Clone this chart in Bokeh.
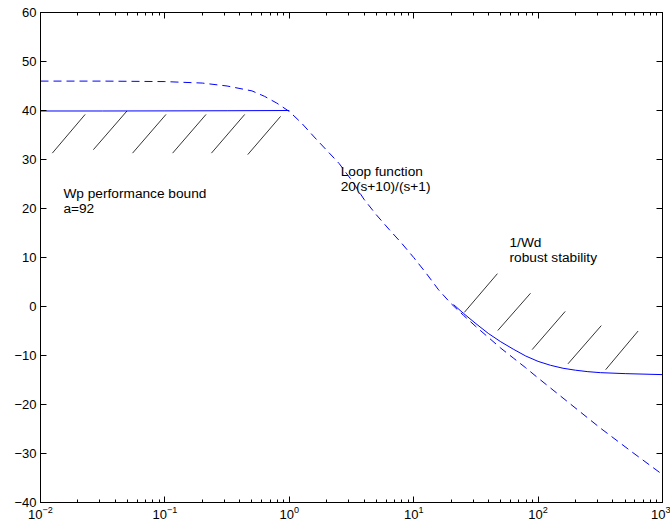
import numpy as np
from bokeh.plotting import figure
from bokeh.models import (Range1d, FixedTicker, LogAxis, LinearAxis, Label,
                          CustomJSTickFormatter)
from bokeh.core.properties import value
from bokeh.embed import file_html
from bokeh.resources import INLINE

# ---- data (frequencies given as log10 of rad/s, magnitudes in dB) ----
loop_logw = [-2.0, -1.5, -1.0, -0.7, -0.5, -0.3, -0.2, -0.1, 0.0, 0.1, 0.2, 0.3,
             0.4, 0.5, 0.6, 0.7, 0.8, 0.9, 1.0, 1.1, 1.2, 1.3, 1.4, 1.5, 1.6,
             1.7, 1.8, 1.9, 2.0, 2.25, 2.5, 2.75, 3.0]
loop_db = [46.0, 46.0, 45.9, 45.6, 45.0, 44.0, 42.9, 41.5, 39.8, 37.4, 34.6, 31.9,
           29.2, 25.8, 21.9, 18.7, 15.8, 13.0, 10.0, 6.8, 3.4, 0.6, -1.8, -4.1,
           -6.3, -8.5, -10.5, -12.5, -14.6, -19.7, -24.8, -29.6, -34.3]

wp_logw = [-2.0, -1.5, -1.0, -0.5, 0.0]
wp_db = [39.9, 39.9, 39.92, 39.95, 40.0]

wd_logw = [1.32, 1.4, 1.5, 1.6, 1.7, 1.8, 1.9, 2.0, 2.1, 2.2, 2.3, 2.4, 2.5,
           2.7, 3.0]
wd_db = [0.4, -1.4, -3.5, -5.5, -7.2, -8.7, -10.1, -11.2, -12.0, -12.6, -13.0,
         -13.3, -13.5, -13.7, -13.9]

# hatch segments (log10 w, dB)
wp_hatch_x0 = [-1.905, -1.575, -1.260, -0.938, -0.626, -0.334]
wp_hatch_y0 = [31.3, 32.0, 31.3, 31.3, 31.3, 31.0]
wp_hatch_x1 = [-1.641, -1.305, -0.991, -0.669, -0.358, -0.070]
wp_hatch_y1 = [39.2, 39.9, 39.2, 39.2, 39.2, 38.8]

wd_hatch_x0 = [1.407, 1.676, 1.952, 2.240, 2.543]
wd_hatch_y0 = [-1.2, -4.9, -8.8, -11.7, -12.9]
wd_hatch_x1 = [1.673, 1.939, 2.218, 2.508, 2.804]
wd_hatch_y1 = [6.7, 2.7, -1.0, -3.9, -5.0]

y_ticks = [-40, -30, -20, -10, 0, 10, 20, 30, 40, 50, 60]
x_major = [0.01, 0.1, 1, 10, 100, 1000]

FONT = "Liberation Sans"
BLUE = "#0000ff"

def pw(a):
    return [10.0 ** v for v in a]

p = figure(width=670, height=527, x_axis_type="log",
           x_range=Range1d(0.01, 1000), y_range=Range1d(-40, 60),
           output_backend="svg", toolbar_location=None,
           min_border_left=40, min_border_right=8, min_border_top=12,
           min_border_bottom=25)
p.background_fill_color = "white"
p.border_fill_color = "white"
p.outline_line_color = "black"
p.xgrid.visible = False
p.ygrid.visible = False

x_minor = [m * d for d in [0.01, 0.1, 1, 10, 100] for m in range(2, 10)]
xt = FixedTicker(ticks=x_major, minor_ticks=x_minor)
yt = FixedTicker(ticks=y_ticks)

def style(ax):
    ax.axis_line_color = "black"
    ax.major_tick_in = 6
    ax.major_tick_out = 0
    ax.minor_tick_in = 3
    ax.minor_tick_out = 0
    ax.major_tick_line_color = "black"
    ax.minor_tick_line_color = "black"
    ax.major_label_text_font = FONT
    ax.major_label_text_font_size = "13px"
    ax.major_label_text_color = "black"

xa = p.xaxis[0]
xa.ticker = xt
style(xa)
xa.major_label_standoff = 3

ya = p.yaxis[0]
ya.ticker = yt
style(ya)
ya.major_label_standoff = 4
ya.major_label_overrides = {t: (str(t).replace("-", "\u2212")) for t in y_ticks}

blank = CustomJSTickFormatter(code="return ''")
top = LogAxis(ticker=FixedTicker(ticks=x_major, minor_ticks=x_minor), formatter=blank)
style(top)
top.major_label_standoff = 0
p.add_layout(top, "above")
right = LinearAxis(ticker=FixedTicker(ticks=y_ticks), formatter=blank)
style(right)
right.major_label_standoff = 0
p.add_layout(right, "right")

# curves
p.line(pw(loop_logw), loop_db, line_color=BLUE, line_width=1, line_dash="8 5")
p.line(pw(wp_logw), wp_db, line_color=BLUE, line_width=1)
p.line(pw(wd_logw), wd_db, line_color=BLUE, line_width=1)

# hatching
p.segment(pw(wp_hatch_x0), wp_hatch_y0, pw(wp_hatch_x1), wp_hatch_y1,
          line_color="black", line_width=0.8)
p.segment(pw(wd_hatch_x0), wd_hatch_y0, pw(wd_hatch_x1), wd_hatch_y1,
          line_color="black", line_width=0.8)

def lab(x, y, t):
    p.add_layout(Label(x=x, y=y, text=t, text_font=FONT,
                       text_font_size="13.7px", text_color="black",
                       text_baseline="alphabetic", text_align="left"))

lab(10 ** -1.816, 23.1, "Wp performance bound")
lab(10 ** -1.816, 20.1, "a=92")
lab(10 ** 0.413, 27.6, "Loop function")
lab(10 ** 0.413, 24.5, "20(s+10)/(s+1)")
lab(10 ** 1.770, 13.0, "1/Wd")
lab(10 ** 1.770, 9.9, "robust stability")

open("out.html", "w").write(file_html(p, INLINE))
